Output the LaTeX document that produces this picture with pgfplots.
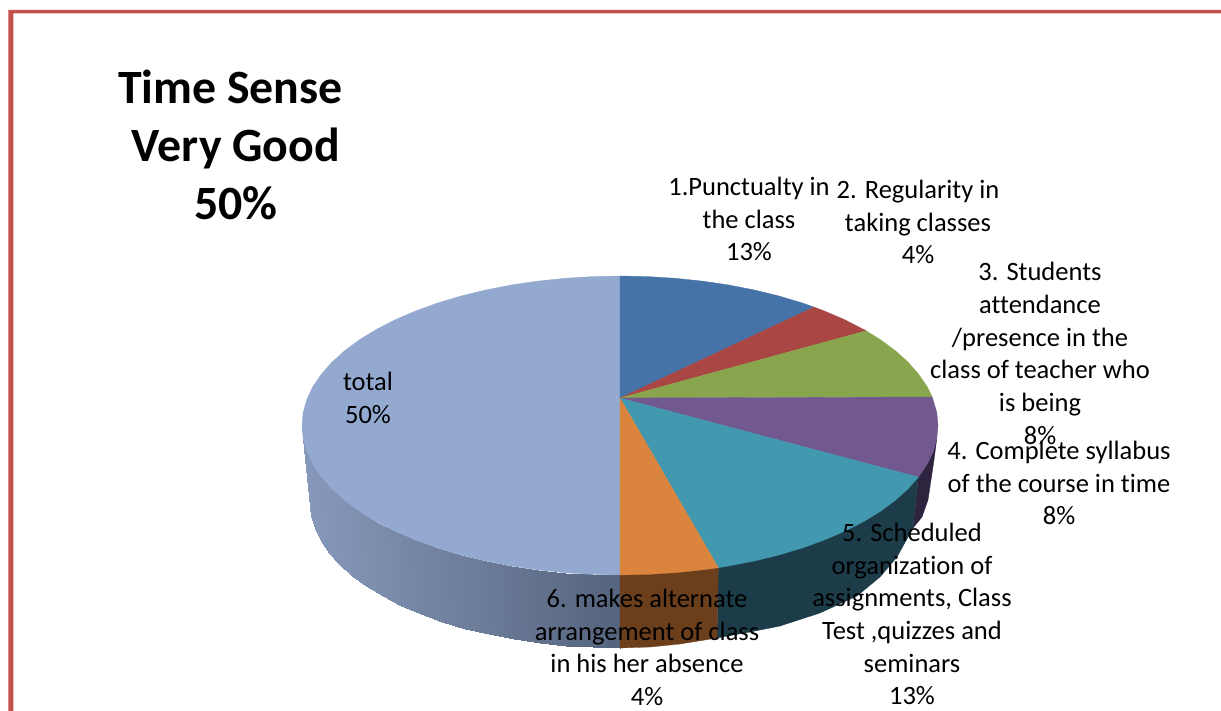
\documentclass[border=0pt]{standalone}
\usepackage{fontspec}
\setmainfont{Carlito}[Ligatures=NoCommon]
\usepackage{pgfplots}
\pgfplotsset{compat=1.18}

\definecolor{frame}{HTML}{C5504E}
\definecolor{cblue}{HTML}{4572A7}
\definecolor{cred}{HTML}{AA4643}
\definecolor{cgreen}{HTML}{89A54E}
\definecolor{cpurple}{HTML}{71588F}
\definecolor{cteal}{HTML}{4198AF}
\definecolor{corange}{HTML}{DB843D}
\definecolor{ctotal}{HTML}{93A9CF}
\definecolor{spurple}{HTML}{2E2440}
\definecolor{steal}{HTML}{1B3C48}
\definecolor{sorange}{HTML}{6B3E1C}

\pgfplotsset{
  slice/.style={fill=#1, draw=#1, line width=0.3pt, forget plot},
}
\newcommand{\lab}{\fontsize{26.5}{32.7}\selectfont}
\newcommand{\ttl}{\fontsize{47.8}{59}\selectfont\bfseries}

\begin{document}
\begin{tikzpicture}
\begin{axis}[
  width=1221pt, height=711pt, scale only axis,
  xmin=0, xmax=1221, ymin=0, ymax=711, y dir=reverse,
  hide axis, clip=false,
]
% page and frame
\addplot[fill=white, draw=none, forget plot] coordinates {(0,0) (1221,0) (1221,711) (0,711)} --cycle;
\addplot[fill=frame, draw=none, forget plot] coordinates {(8.3,711) (8.3,10) (1221,10) (1221,13.3) (13.3,13.3) (13.3,711)} --cycle;

% side wall of total
\addplot[patch, patch type=rectangle, shader=interp, forget plot,
  colormap={sidewall}{rgb255=(135,153,187) rgb255=(85,100,125)},
  point meta=explicit, point meta min=0, point meta max=1]
  coordinates {
  (302,425.5)[0] (310,503)[0] (311.2,515.6)[.004] (303.2,438.5)[.004]
  (303.2,438.5)[.004] (311.2,515.6)[.004] (314.7,528.2)[.015] (306.8,451.5)[.015]
  (306.8,451.5)[.015] (314.7,528.2)[.015] (320.6,540.5)[.034] (312.8,464.2)[.034]
  (312.8,464.2)[.034] (320.6,540.5)[.034] (328.7,552.6)[.06] (321.2,476.6)[.06]
  (321.2,476.6)[.06] (328.7,552.6)[.06] (339,564.3)[.094] (331.8,488.7)[.094]
  (331.8,488.7)[.094] (339,564.3)[.094] (351.5,575.5)[.134] (344.6,500.25)[.134]
  (344.6,500.25)[.134] (351.5,575.5)[.134] (366,586.2)[.181] (359.5,511.3)[.181]
  (359.5,511.3)[.181] (366,586.2)[.181] (382.5,596.2)[.234] (376.4,521.6)[.234]
  (376.4,521.6)[.234] (382.5,596.2)[.234] (400.8,605.5)[.293] (395.1,531.2)[.293]
  (395.1,531.2)[.293] (400.8,605.5)[.293] (420.7,614.1)[.357] (415.6,540)[.357]
  (415.6,540)[.357] (420.7,614.1)[.357] (442.2,621.8)[.426] (437.6,548)[.426]
  (437.6,548)[.426] (442.2,621.8)[.426] (465,628.6)[.5] (461,555)[.5]
  (461,555)[.5] (465,628.6)[.5] (489,634.4)[.577] (485.6,561)[.577]
  (485.6,561)[.577] (489,634.4)[.577] (514,639.3)[.658] (511.2,566)[.658]
  (511.2,566)[.658] (514,639.3)[.658] (539.8,643.1)[.741] (537.7,569.9)[.741]
  (537.7,569.9)[.741] (539.8,643.1)[.741] (566.2,645.8)[.826] (564.8,572.7)[.826]
  (564.8,572.7)[.826] (566.2,645.8)[.826] (593,647.4)[.913] (592.3,574.4)[.913]
  (592.3,574.4)[.913] (593,647.4)[.913] (620,648)[1] (620,575)[1]
  };
% side walls of the other front slices
\addplot[slice=spurple] coordinates {(918.4,477.1) (927.2,464.2) (933.2,451.5) (936.8,438.5) (934,460) (928,500) (922,517) (913,528)} --cycle;
\addplot[slice=steal] coordinates {(918.4,477.1) (913,528) (897,557) (880,577) (857,596) (820,613) (780,626) (750,632) (717,638) (718.3,567.7)} --cycle;
\addplot[slice=sorange] coordinates {(620,575) (718.3,567.7) (717,638) (680,644) (650,647) (620,648)} --cycle;

% top face: 13, 4, 8, 8, 13, 4, 50 percent
\addplot[slice=ctotal] coordinates {(620,398) (620,276) (592.3,276.6) (564.8,278.3) (537.7,281.1) (511.2,285) (485.6,290) (461,296) (437.6,303) (415.6,311) (395.1,319.8) (376.4,329.4) (359.5,339.7) (344.6,350.75) (331.8,362.3) (321.2,374.4) (312.8,386.8) (306.8,399.5) (303.2,412.5) (302,425.5) (303.2,438.5) (306.8,451.5) (312.8,464.2) (321.2,476.6) (331.8,488.7) (344.6,500.25) (359.5,511.3) (376.4,521.6) (395.1,531.2) (415.6,540) (437.6,548) (461,555) (485.6,561) (511.2,566) (537.7,569.9) (564.8,572.7) (592.3,574.4) (620,575)} --cycle;
\addplot[slice=cblue] coordinates {(620,398) (620,276) (647.7,276.6) (675.2,278.3) (702.3,281.1) (728.8,285) (754.4,290) (779,296) (802.4,303) (814,307.1)} --cycle;
\addplot[slice=cred] coordinates {(620,398) (814,307.1) (824.4,311) (844.9,319.8) (866.1,330.8)} --cycle;
\addplot[slice=cgreen] coordinates {(620,398) (866.1,330.8) (880.5,339.7) (895.4,350.75) (908.2,362.3) (918.8,374.4) (927.2,386.8) (932.2,397)} --cycle;
\addplot[slice=cpurple] coordinates {(620,398) (932.2,397) (936.8,412.5) (938,425.5) (936.8,438.5) (933.2,451.5) (927.2,464.2) (918.4,477.1)} --cycle;
\addplot[slice=cteal] coordinates {(620,398) (918.4,477.1) (908.2,488.7) (895.4,500.25) (880.5,511.3) (863.6,521.6) (844.9,531.2) (824.4,540) (802.4,548) (779,555) (754.4,561) (728.8,566) (718.3,567.7)} --cycle;
\addplot[slice=corange] coordinates {(620,398) (718.3,567.7) (702.3,569.9) (675.2,572.7) (647.7,574.4) (620,575)} --cycle;

% title
\node[font=\ttl, anchor=base] at (axis cs:230.5,103.5) {Time Sense};
\node[font=\ttl, anchor=base] at (axis cs:236,161.5) {Very Good};
\node[font=\ttl, anchor=base] at (axis cs:236,220) {50\%};

% data labels
\node[font=\lab, align=center] at (axis cs:749,219) {1.Punctualty in\\the class\\13\%};
\node[font=\lab, align=center] at (axis cs:918,222) {2. Regularity in\\taking classes\\4\%};
\node[font=\lab, align=center] at (axis cs:1040,353.5) {3. Students\\attendance\\/presence in the\\class of teacher who\\is being\\8\%};
\node[font=\lab, align=center] at (axis cs:1059,483) {4. Complete syllabus\\of the course in time\\8\%};
\node[font=\lab, align=center] at (axis cs:912,614) {5. Scheduled\\organization of\\assignments, Class\\Test ,quizzes and\\seminars\\13\%};
\node[font=\lab, align=center] at (axis cs:647,647.5) {6. makes alternate\\arrangement of class\\in his her absence\\4\%};
\node[font=\lab, align=center] at (axis cs:368,398) {total\\50\%};
\end{axis}
\end{tikzpicture}
\end{document}
